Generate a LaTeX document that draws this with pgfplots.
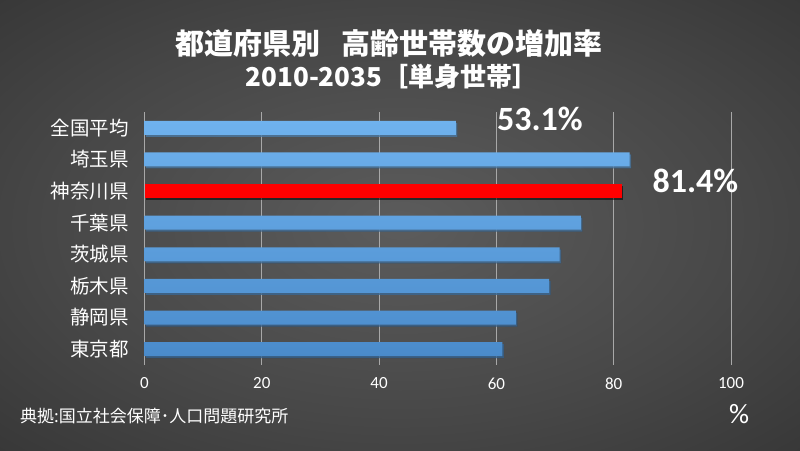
\documentclass[border=0pt]{standalone}
\usepackage{fontspec}
\setmainfont{Carlito}
\newfontfamily\jp{Noto Sans CJK JP}
\usepackage{pgfplots}
\pgfplotsset{compat=1.18}
\definecolor{bgA}{HTML}{5C5C5C}
\definecolor{bgB}{HTML}{474747}
\definecolor{bgC}{HTML}{282828}
\definecolor{bgD}{HTML}{181818}
\definecolor{blueTop}{HTML}{6FB2EE}
\definecolor{blueBot}{HTML}{4A8BCB}
\definecolor{gridc}{HTML}{A8A8A8}
\pgfdeclareradialshading{bgshade}{\pgfpoint{0bp}{0bp}}{color(0bp)=(bgA); color(22bp)=(bgB); color(50bp)=(bgC); color(72bp)=(bgD)}
\begin{document}
\begin{tikzpicture}[x=1pt,y=1pt]
\useasboundingbox (0,0) rectangle (800,450);
\shade[shading=bgshade] (0,0) rectangle (800,450);
\node[font=\jp\bfseries\fontsize{29}{29}\selectfont, text=white] at (389,407) {都道府県別\hspace{0.75em}高齢世帯数の増加率};
\node[font=\jp\bfseries\fontsize{26}{26}\selectfont, text=white] at (392,373) {2010-2035［単身世帯］};
\begin{axis}[
  at={(144.5pt,85pt)}, anchor=south west,
  scale only axis, width=586.5pt, height=253pt,
  xmin=0, xmax=100, ymin=-0.5, ymax=7.5, y dir=reverse,
  xbar, bar width=14pt, bar shift=0pt,
  axis line style={draw=none},
  major tick length=0pt,
  xmajorgrids, grid style={gridc, line width=0.9pt},
  xtick={0,20,40,60,80,100},
  ytick={0,1,2,3,4,5,6,7},
  yticklabels={全国平均,埼玉県,神奈川県,千葉県,茨城県,栃木県,静岡県,東京都},
  yticklabel style={font=\jp\fontsize{19.5}{19.5}\selectfont, text=white},
  xticklabel style={font=\fontsize{17}{17}\selectfont, text=white},
  /pgf/number format/assume math mode=true,
  xticklabel shift=9pt,
  yticklabel shift=12pt,
  clip=false,
]
\addplot[draw=none, top color=blueTop, bottom color=blueBot,
  preaction={fill=black, opacity=0.55, transform canvas={shift={(1.5pt,-2pt)}}}]
  coordinates {(53.1,0) (82.7,1) (74.4,3) (70.8,4) (69.0,5) (63.3,6) (61.0,7)};
\addplot[draw=none, fill=red,
  preaction={fill=black, opacity=0.55, transform canvas={shift={(1.5pt,-2pt)}}}]
  coordinates {(81.4,2)};
\node[font=\bfseries\fontsize{34}{34}\selectfont, text=white, anchor=west, inner sep=0pt] at (axis cs:60.1,-0.28) {53.1\%};
\node[font=\bfseries\fontsize{34}{34}\selectfont, text=white, anchor=west, inner sep=0pt] at (axis cs:86.6,1.68) {81.4\%};
\end{axis}
\node[font=\fontsize{28}{28}\selectfont, text=white] at (739,36) {\%};
\node[font=\jp\fontsize{17}{17}\selectfont, text=white, anchor=west, inner sep=0pt] at (20,34) {典拠:国立社会保障･人口問題研究所};
\end{tikzpicture}
\end{document}
